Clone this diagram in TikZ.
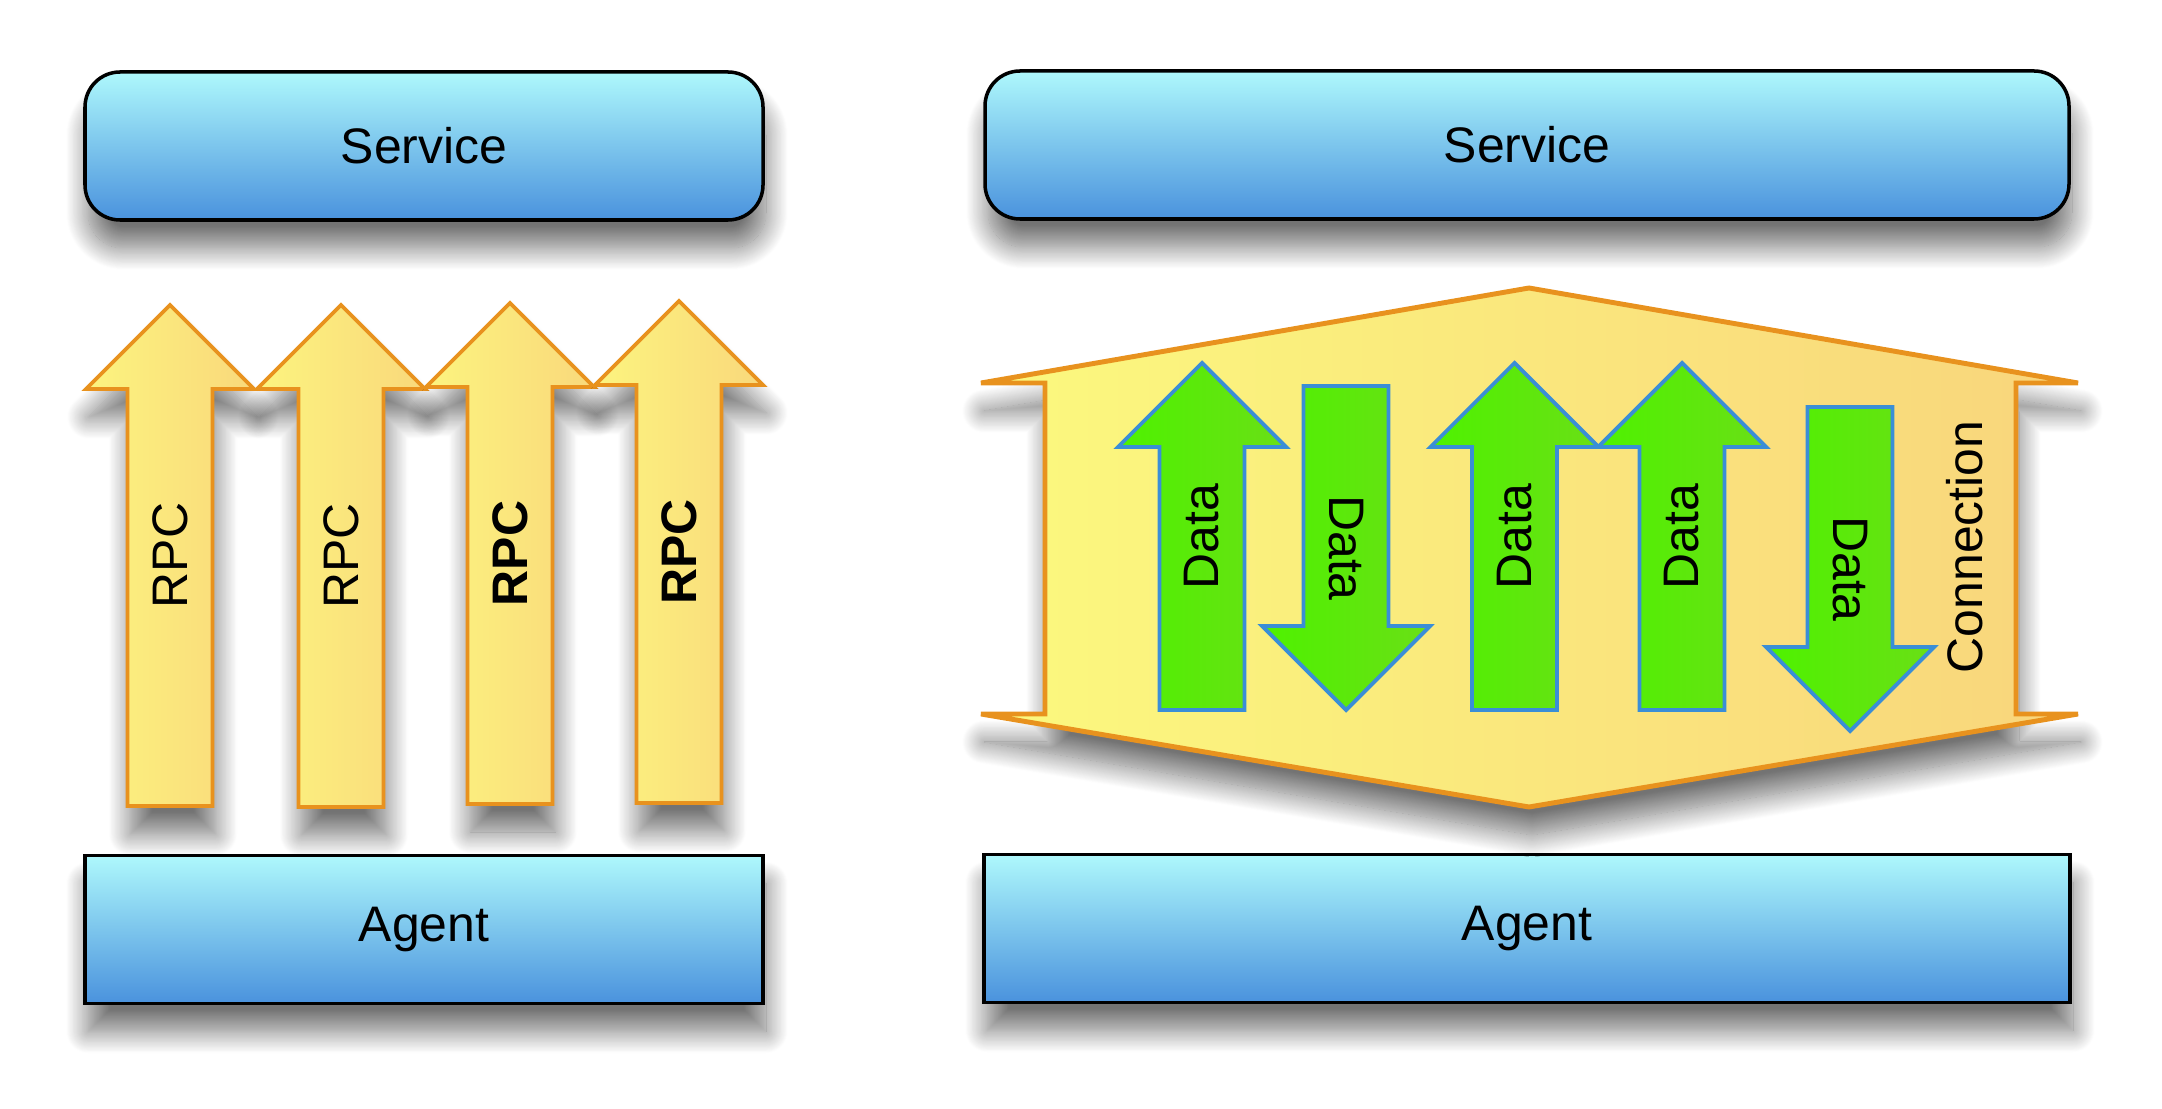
\documentclass[tikz,border=0pt]{standalone}
\usepackage{fontspec}
\setmainfont{Liberation Sans}
\usetikzlibrary{shadows.blur,positioning}

\definecolor{boxtop}{HTML}{AEF8FC}
\definecolor{boxbot}{HTML}{4A92DD}
\definecolor{rpcleft}{HTML}{FCF47F}
\definecolor{rpcright}{HTML}{F9D87B}
\definecolor{connleft}{HTML}{FBF97E}
\definecolor{connright}{HTML}{F9D57C}
\definecolor{orangeline}{HTML}{E8921E}
\definecolor{datalight}{HTML}{4EF200}
\definecolor{datadark}{HTML}{6ADF16}
\definecolor{dataline}{HTML}{3A8ED6}

\tikzset{
  every node/.style={font=\fontsize{14.2}{17}\selectfont},
  softshadow/.style={blur shadow={shadow xshift=0.03cm, shadow yshift=-0.28cm,
      shadow blur radius=0.22cm, shadow blur steps=25, shadow opacity=55}},
  layer/.style={draw=black, line width=1pt, top color=boxtop, bottom color=boxbot,
      minimum height=1.48cm, softshadow},
  svc/.style={layer, rounded corners=0.35cm},
  rpcbody/.style={draw=orangeline, line width=1.1pt,
      left color=rpcleft, right color=rpcright, softshadow},
  databody/.style={draw=dataline, line width=1.1pt,
      left color=datalight, right color=datadark},
  connbody/.style={draw=orangeline, line width=1.4pt,
      left color=connleft, right color=connright, softshadow},
  pics/block arrow/.style args={#1/#2/#3}{code={
      \path[#1] (-0.425,0) -- (-0.425,#2-0.84) -- (-0.84,#2-0.84) -- (0,#2)
          -- (0.84,#2-0.84) -- (0.425,#2-0.84) -- (0.425,0) -- cycle;
      \node[rotate=90, transform shape] (-lbl) at (0,#2/2) {#3};
  }}
}

\begin{document}
\begin{tikzpicture}[node distance=7.835cm]
  \useasboundingbox (0,0) rectangle (21.62,11.08);

  % left: one rpc per call
  \node[svc, minimum width=6.78cm]   (svcL) at (4.24,9.62)    {Service};
  \node[layer, minimum width=6.78cm] (agentL) [below of=svcL] {Agent};

  \pic (rpc1) at (1.70,3.02) {block arrow=rpcbody/5.01/RPC};
  \pic (rpc2) at (3.41,3.01) {block arrow=rpcbody/5.02/RPC};
  \pic (rpc3) at (5.10,3.04) {block arrow=rpcbody/5.01/\textbf{RPC}};
  \pic (rpc4) at (6.79,3.05) {block arrow=rpcbody/5.02/\textbf{RPC}};

  % right: data over one connection
  \node[svc, minimum width=10.84cm]   (svcR) at (15.27,9.63)   {Service};
  \node[layer, minimum width=10.86cm] (agentR) [below of=svcR] {Agent};

  \path[connbody] (15.29,8.20) -- (20.78,7.25) -- (20.16,7.25) -- (20.16,3.94)
      -- (20.78,3.94) -- (15.29,3.01) -- (9.81,3.94) -- (10.45,3.94)
      -- (10.45,7.25) -- (9.81,7.25) -- cycle;
  \node[rotate=90] (connlbl) at (19.65,5.61) {Connection};

  \pic (data1) at (12.02,3.98) {block arrow=databody/3.47/Data};
  \pic[rotate=180] (data2) at (13.46,7.22) {block arrow=databody/3.24/Data};
  \pic (data3) at (15.145,3.98) {block arrow=databody/3.47/Data};
  \pic (data4) at (16.82,3.98) {block arrow=databody/3.47/Data};
  \pic[rotate=180] (data5) at (18.50,7.01) {block arrow=databody/3.24/Data};
\end{tikzpicture}
\end{document}
